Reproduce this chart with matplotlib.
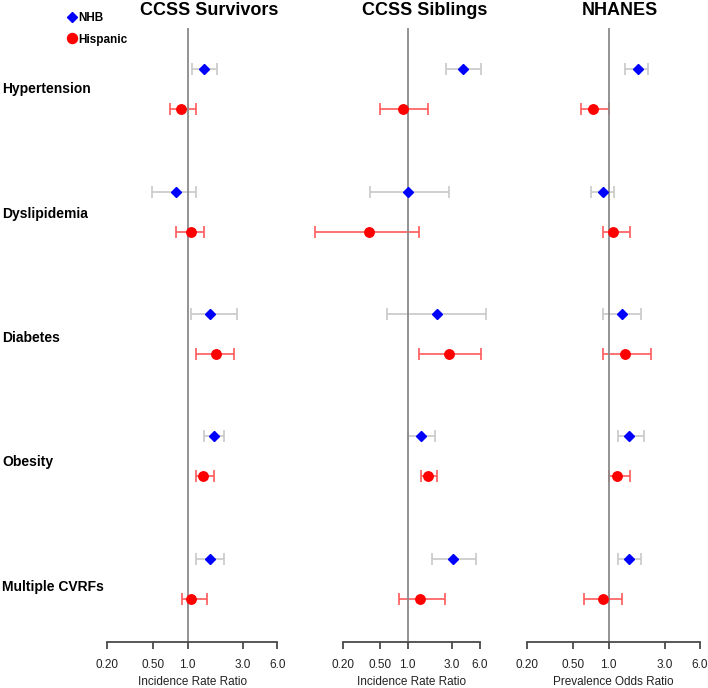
import numpy as np
import matplotlib
matplotlib.use('Agg')
import matplotlib.pyplot as plt
from matplotlib.ticker import NullLocator, FixedLocator, FixedFormatter

plt.rcParams['font.family'] = ['Liberation Sans', 'DejaVu Sans']

outcomes = ['Hypertension', 'Dyslipidemia', 'Diabetes', 'Obesity', 'Multiple CVRFs']
panels = ['CCSS Survivors', 'CCSS Siblings', 'NHANES']
xlabels = ['Incidence Rate Ratio', 'Incidence Rate Ratio', 'Prevalence Odds Ratio']
tick_vals = [0.2, 0.5, 1.0, 3.0, 6.0]
tick_labels = ['0.20', '0.50', '1.0', '3.0', '6.0']
groups = ['NHB', 'Hispanic']

# CCSS Survivors
surv_nhb_est = [1.39, 0.80, 1.57, 1.68, 1.57]
surv_nhb_lo = [1.09, 0.49, 1.06, 1.38, 1.18]
surv_nhb_hi = [1.81, 1.19, 2.67, 2.08, 2.08]
surv_hisp_est = [0.88, 1.07, 1.77, 1.36, 1.06]
surv_hisp_lo = [0.70, 0.80, 1.19, 1.18, 0.89]
surv_hisp_hi = [1.19, 1.39, 2.54, 1.68, 1.48]

# CCSS Siblings
sib_nhb_est = [3.98, 1.00, 2.08, 1.39, 3.08]
sib_nhb_lo = [2.59, 0.395, 0.60, 1.02, 1.83]
sib_nhb_hi = [6.22, 2.81, 6.93, 1.98, 5.41]
sib_hisp_est = [0.88, 0.388, 2.79, 1.65, 1.37]
sib_hisp_lo = [0.506, 0.101, 1.32, 1.39, 0.81]
sib_hisp_hi = [1.67, 1.32, 6.22, 2.09, 2.53]

# NHANES
nh_nhb_est = [1.79, 0.90, 1.30, 1.50, 1.50]
nh_nhb_lo = [1.39, 0.71, 0.90, 1.19, 1.19]
nh_nhb_hi = [2.18, 1.10, 1.89, 1.99, 1.89]
nh_hisp_est = [0.73, 1.08, 1.37, 1.18, 0.89]
nh_hisp_lo = [0.575, 0.90, 0.90, 1.00, 0.61]
nh_hisp_hi = [1.00, 1.51, 2.29, 1.51, 1.30]

panel_data = [
    (surv_nhb_est, surv_nhb_lo, surv_nhb_hi, surv_hisp_est, surv_hisp_lo, surv_hisp_hi),
    (sib_nhb_est, sib_nhb_lo, sib_nhb_hi, sib_hisp_est, sib_hisp_lo, sib_hisp_hi),
    (nh_nhb_est, nh_nhb_lo, nh_nhb_hi, nh_hisp_est, nh_hisp_lo, nh_hisp_hi),
]

W, H = 708, 688
fig = plt.figure(figsize=(W / 100, H / 100), dpi=100)

# layout in pixels
ax_lr = [(107, 277.3), (342.7, 480.0), (526.7, 700.0)]
ax_top, ax_bot = 28, 642
title_x = [209.5, 425, 620]

NHB_COL = '#0000ff'
HISP_COL = '#ff0000'
NHB_CI = '#c8c8c8'
HISP_CI = '#ff5a5a'

yidx = np.arange(len(outcomes))
off = 0.1634

for k, (l, r) in enumerate(ax_lr):
    ax = fig.add_axes([l / W, (H - ax_bot) / H, (r - l) / W, (ax_bot - ax_top) / H])
    ax.set_xscale('log')
    ax.set_xlim(0.2, 6.0)
    ax.set_ylim(4.516, -0.5)
    for s in ['left', 'top', 'right']:
        ax.spines[s].set_visible(False)
    ax.spines['bottom'].set_color('#4a4a4a')
    ax.spines['bottom'].set_linewidth(1.3)
    ax.set_yticks([])
    ax.xaxis.set_major_locator(FixedLocator(tick_vals))
    ax.xaxis.set_major_formatter(FixedFormatter(tick_labels))
    ax.xaxis.set_minor_locator(NullLocator())
    ax.tick_params(axis='x', direction='out', length=5, width=1.3, color='#4a4a4a',
                   labelsize=8.5, labelcolor='#222222', pad=7)
    ax.set_xlabel(xlabels[k], fontsize=8.5, color='#222222', labelpad=3.5)
    ax.axvline(1.0, color='#8a8a8a', lw=1.3, zorder=2)

    ne, nl, nh, he, hl, hh = [np.array(a) for a in panel_data[k]]
    ax.errorbar(ne, yidx - off, xerr=[ne - nl, nh - ne], fmt='none', ecolor=NHB_CI,
                elinewidth=1.2, capsize=4.5, capthick=1.2, zorder=1, clip_on=False)
    ax.errorbar(he, yidx + off, xerr=[he - hl, hh - he], fmt='none', ecolor=HISP_CI,
                elinewidth=1.2, capsize=4.5, capthick=1.2, zorder=1, clip_on=False)
    ax.plot(ne, yidx - off, linestyle='none', marker='D', ms=5.2, color=NHB_COL,
            mec=NHB_COL, zorder=4, clip_on=False)
    ax.plot(he, yidx + off, linestyle='none', marker='o', ms=6.8, color=HISP_COL,
            mec=HISP_COL, zorder=4, clip_on=False)

    fig.text(title_x[k] / W, (H - 15) / H, panels[k], ha='center', va='baseline',
             fontsize=13, fontweight='bold')

# outcome labels
lab = fig.add_axes([0, (H - ax_bot) / H, 106 / W, (ax_bot - ax_top) / H])
lab.axis('off')
lab.set_xlim(0, 106)
lab.set_ylim(4.4126, -0.525)
for i, name in enumerate(outcomes):
    lab.text(2, i, name, ha='left', va='baseline', fontsize=10, fontweight='bold')

# legend
leg = fig.add_axes([0, 0, 1, 1])
leg.axis('off')
leg.set_xlim(0, W)
leg.set_ylim(H, 0)
leg_y = [16.7, 38.3]
leg.plot([72], [leg_y[0]], linestyle='none', marker='D', ms=5.5, color=NHB_COL)
leg.plot([72], [leg_y[1]], linestyle='none', marker='o', ms=7.2, color=HISP_COL)
for yy, g in zip(leg_y, groups):
    leg.text(78.5, yy + 4.2, g, ha='left', va='baseline', fontsize=8.5, fontweight='bold')

fig.savefig('out.png', dpi=100)
